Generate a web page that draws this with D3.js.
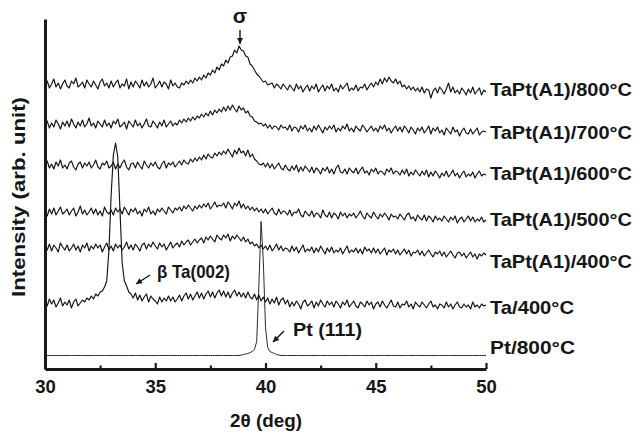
<!DOCTYPE html>
<html>
<head>
<meta charset="utf-8">
<script src="https://cdn.jsdelivr.net/npm/d3@7"></script>
<style>
html,body{margin:0;padding:0;background:#fff;}
svg{display:block;}
text{font-family:"Liberation Sans",Arial,Helvetica,sans-serif;font-weight:bold;fill:#161616;}
</style>
</head>
<body>
<svg id="chart" width="636" height="433"></svg>
<script>
// 2-theta grid: 30.0 .. 50.0 deg, step 0.1
const twoThetaStart = 30.0, twoThetaStep = 0.1;
const xTicksMajor = [30, 35, 40, 45, 50];
const xTicksMinor = [32.5, 37.5, 42.5, 47.5];

const seriesLabels = ["TaPt(A1)/800°C","TaPt(A1)/700°C","TaPt(A1)/600°C","TaPt(A1)/500°C","TaPt(A1)/400°C","Ta/400°C","Pt/800°C"];
// vertical stacking offsets (arb. units)
const seriesOffsets = [276, 237, 194, 149, 112, 64, 13.5];

const tapt800 = [
8,12,5,9,14,6,10,4,9,13, 7,5,12,9,15,6,8,11,5,13, 9,6,12,8,4,11,14,7,10,5, 12,6,10,13,5,9,7,14,4,11,
6,12,9,5,13,7,11,6,9,15, 5,8,12,6,11,9,4,13,7,10, 6,5,10,8,12,9,13,10,15,12, 16,13,18,15,20,18,23,20,26,23,
29,27,33,30,36,37,43,40,47,43, 42,37,36,29,27,23,19,17,14,11, 12,8,9,10,5,9,7,4,9,6, 3,8,5,2,9,4,7,1,5,8,
2,7,4,9,1,5,8,2,7,4, 9,2,5,1,8,4,7,10,2,5, 3,8,2,6,5,9,3,7,10,6, 11,8,14,9,15,11,16,12,10,14,
9,12,6,8,4,7,3,6,2,5, 1,6,0,4,3,-5,2,5,0,6, 3,-1,4,10,1,6,0,3,-1,5, 2,-2,4,0,6,-1,2,5,-2,3, 1];

const tapt700 = [
7,11,4,9,5,12,8,3,10,6, 11,5,13,8,4,10,6,12,5,8, 14,6,9,4,11,8,5,12,6,9, 4,11,8,13,5,7,10,3,11,8,
5,12,6,9,4,8,13,6,5,11, 8,4,10,6,12,5,8,11,6,9, 7,12,9,13,10,14,11,15,12,16, 14,18,15,19,16,21,17,22,19,23,
20,25,21,26,22,27,23,20,26,22, 24,19,21,16,15,11,10,8,9,6, 8,4,7,3,6,5,2,7,4,5, 2,7,1,5,4,0,6,3,7,1,
4,0,6,2,7,3,-1,5,2,6, 3,7,0,4,1,6,3,8,1,4, 0,6,3,1,7,4,0,3,6,1, 4,0,6,3,7,1,4,-1,3,6,
1,5,0,6,3,-1,5,2,-2,4, 1,5,-1,2,6,-2,4,1,5,-1, 2,-3,4,1,-2,5,0,2,-4,1, 4,-1,-2,3,-2,1,4,-3,0,1, 0];

const tapt600 = [
10,14,7,11,6,13,9,15,7,10, 6,12,14,8,5,11,13,7,12,9, 13,7,10,15,8,6,12,10,14,7, 9,13,6,11,7,12,15,8,5,11,
12,7,13,9,6,14,10,7,12,9, 13,8,6,11,14,7,12,10,13,8, 11,14,10,15,12,11,16,13,17,14, 18,15,20,16,21,18,17,22,19,23,
20,24,21,26,22,18,25,21,27,22, 24,19,25,18,21,16,14,11,10,12, 8,12,7,11,6,9,12,7,5,10, 6,4,9,5,10,3,8,4,9,6,
3,8,2,7,5,1,7,4,8,2, 6,1,7,10,3,2,6,1,7,4, 2,7,1,5,8,2,4,0,6,3, 7,1,4,3,0,6,3,7,1,4,
3,0,5,1,6,-1,3,0,5,2, -1,4,0,5,-2,3,-1,4,1,-3, 2,-1,4,-2,1,5,-1,2,-3,1, 4,-2,1,-1,3,-3,1,4,-1,1, 0];

const tapt500 = [
8,4,11,6,12,5,9,13,6,8, 11,5,9,12,4,8,14,6,10,5, 8,12,6,11,5,9,4,13,8,6, 10,5,12,8,11,6,13,9,5,11,
8,12,6,9,4,11,8,13,6,9, 5,11,8,12,9,6,13,10,7,12, 10,13,9,14,11,15,12,9,14,11, 15,12,16,13,17,11,14,18,13,15,
14,17,12,18,15,11,17,14,19,12, 16,11,14,10,13,9,12,8,11,7, 11,6,9,12,7,5,11,6,9,8, 5,10,4,8,7,11,5,3,9,6,
4,9,3,7,6,2,10,5,3,8, 2,7,5,1,8,4,7,2,6,4, 7,2,5,9,4,1,7,4,2,8, 4,1,6,3,7,4,0,6,3,4,
1,6,3,0,5,7,1,3,-1,5, 2,0,5,-1,4,2,-2,4,0,2, -1,4,1,-2,3,0,4,-3,1,3, -2,1,4,-1,3,-2,1,-1,3,-2, 0];

const tapt400 = [
10,7,13,6,12,9,5,14,10,7, 12,6,9,13,7,11,5,12,9,14, 6,11,8,13,9,12,5,10,14,7, 11,6,13,9,12,7,10,15,8,12,
7,13,10,6,12,14,8,13,10,15, 11,8,14,10,13,7,11,15,9,12, 14,10,16,12,15,17,12,15,18,14, 17,19,14,20,17,21,18,15,22,19,
17,22,19,23,16,21,18,22,19,16, 20,15,18,13,15,11,13,9,12,8, 11,7,12,6,9,13,7,11,6,9, 8,5,11,6,10,4,8,12,5,8,
6,10,4,9,5,11,7,3,9,5, 10,4,7,5,9,3,7,11,4,7, 5,9,4,8,3,10,6,8,4,9, 4,8,3,6,9,2,7,5,8,3,
7,2,5,8,3,7,1,5,4,7, 2,6,1,4,7,3,0,5,3,6, 1,5,0,3,6,2,-1,4,5,1, 4,-1,2,5,0,3,-2,3,1,4, 2];

const ta400 = [
3,-1,6,1,5,-2,2,7,-1,3, 0,5,-3,3,6,-1,2,5,3,7, 5,9,6,11,9,13,14,18,24,55, 110,150,162,148,95,42,24,19,13,11,
7,12,5,10,4,8,11,3,9,6, 4,1,8,3,7,4,9,4,8,3, 6,10,4,9,12,6,11,5,9,13, 7,12,6,11,14,8,13,7,12,15,
9,14,8,13,7,12,15,9,13,8, 12,7,13,8,6,11,5,10,4,8, 3,7,1,6,2,8,0,5,7,1, 5,-2,3,-1,4,1,-4,3,5,-1,
1,4,-3,3,-1,5,1,-2,4,0, 3,-2,4,1,-3,3,0,5,-2,1, 4,-1,-3,3,1,-2,4,0,3,-4, 1,3,-2,4,0,-3,1,5,-1,-2,
3,-3,1,0,4,-2,1,-4,3,0, -2,3,0,-3,1,4,-2,0,-4,1, 0,-3,3,-2,1,-4,0,3,-2,-3, 1,-2,0,-4,3,-2,0,-3,1,-1, 0];

const pt800 = [
0,0,0,0,0,0,0,0,0,0, 0,0,0,0,0,0,0,0,0,0, 0,0,0,0,0,0,0,0,0,0, 0,0,0,0,0,0,0,0,0,0,
0,0,0,0,0,0,0,0,0,0, 0,0,0,0,0,0,0,0,0,0, 0,0,0,0,0,0,0,0,0,0, 0,0,0,0,0,0,0,0,0,0,
0,0,0,0,0,0,0,0,0,0.5, 1,1.5,2,3,4,6,14,70,134,95, 28,8,4,3,2,1,0.5,0,0,0, 0,0,0,0,0,0,0,0,0,0,
0,0,0,0,0,0,0,0,0,0, 0,0,0,0,0,0,0,0,0,0, 0,0,0,0,0,0,0,0,0,0, 0,0,0,0,0,0,0,0,0,0,
0,0,0,0,0,0,0,0,0,0, 0,0,0,0,0,0,0,0,0,0, 0,0,0,0,0,0,0,0,0,0, 0,0,0,0,0,0,0,0,0,0, 0];

const seriesValues = [tapt800, tapt700, tapt600, tapt500, tapt400, ta400, pt800];

const svg = d3.select("#chart");
const x = d3.scaleLinear().domain([30, 50]).range([45, 486]);
const y = d3.scaleLinear().domain([0, 350]).range([369, 19]);

function stext(g, px, py, str, size, width, anchor) {
  const t = g.append("text")
    .attr("x", px).attr("y", py)
    .attr("font-size", size)
    .attr("text-anchor", anchor || "start")
    .text(str);
  if (width) t.attr("textLength", width).attr("lengthAdjust", "spacingAndGlyphs");
  return t;
}

// traces
const line = d3.line()
  .x((d, i) => x(twoThetaStart + i * twoThetaStep))
  .y(d => d);

seriesValues.forEach((vals, k) => {
  const off = seriesOffsets[k];
  svg.append("path")
    .datum(vals.map(v => y(v + off)))
    .attr("fill", "none")
    .attr("stroke", "#141414")
    .attr("stroke-width", k === 6 ? 0.9 : 1.15)
    .attr("stroke-linejoin", "round")
    .attr("d", line);
});

// axes
const gx = svg.append("g").attr("transform", `translate(0,${y(0)})`);
gx.call(d3.axisBottom(x).tickValues(xTicksMajor).tickSize(-6).tickSizeOuter(0).tickPadding(11).tickFormat(d3.format("d")));
gx.select(".domain").attr("stroke", "#1a1a1a").attr("stroke-width", 3);
gx.selectAll(".tick line").attr("stroke", "#1a1a1a").attr("stroke-width", 2.2);
gx.selectAll(".tick text").attr("font-size", 18.5).attr("font-family", "Liberation Sans, Arial, sans-serif").attr("font-weight", "bold").attr("fill", "#161616");
const gxm = svg.append("g").attr("transform", `translate(0,${y(0)})`);
gxm.call(d3.axisBottom(x).tickValues(xTicksMinor).tickSize(-3.5).tickSizeOuter(0).tickFormat(""));
gxm.select(".domain").remove();
gxm.selectAll(".tick line").attr("stroke", "#1a1a1a").attr("stroke-width", 2.2);

const gy = svg.append("g").attr("transform", `translate(${x(30)},0)`);
gy.call(d3.axisLeft(y).tickValues([]).tickSizeOuter(0));
gy.select(".domain").attr("stroke", "#1a1a1a").attr("stroke-width", 3);

// axis titles
stext(svg, 266, 427, "2θ (deg)", 18, 72, "middle");
stext(svg, 0, 0, "Intensity (arb. unit)", 18, 200, "middle")
  .attr("transform", "translate(25,197) rotate(-90)");

// series labels
const labelWidths = [142, 142, 142, 142, 142, 84, 85];
const labelBaselines = [96, 139, 180, 226, 268, 314, 354];
seriesLabels.forEach((s, k) => stext(svg, 490, labelBaselines[k], s, 19, labelWidths[k]));

// annotations
const ann = svg.append("g");
function arrow(x1, y1, x2, y2) {
  ann.append("line").attr("x1", x1).attr("y1", y1).attr("x2", x2).attr("y2", y2)
    .attr("stroke", "#161616").attr("stroke-width", 1.4);
  const a = Math.atan2(y2 - y1, x2 - x1), L = 6, W = 3;
  const bx = x2 - L * Math.cos(a), by = y2 - L * Math.sin(a);
  const pts = [[x2, y2], [bx + W * Math.sin(a), by - W * Math.cos(a)], [bx - W * Math.sin(a), by + W * Math.cos(a)]];
  ann.append("path").attr("d", "M" + pts.join("L") + "Z").attr("fill", "#161616");
}
stext(ann, 240, 23, "σ", 21, null, "middle");
arrow(240, 30, 240, 44);
stext(ann, 157, 278, "β Ta(002)", 19, 73);
arrow(150, 275, 136, 284);
stext(ann, 293, 336, "Pt (111)", 19, 69);
arrow(284, 331, 273, 342);
</script>
</body>
</html>
